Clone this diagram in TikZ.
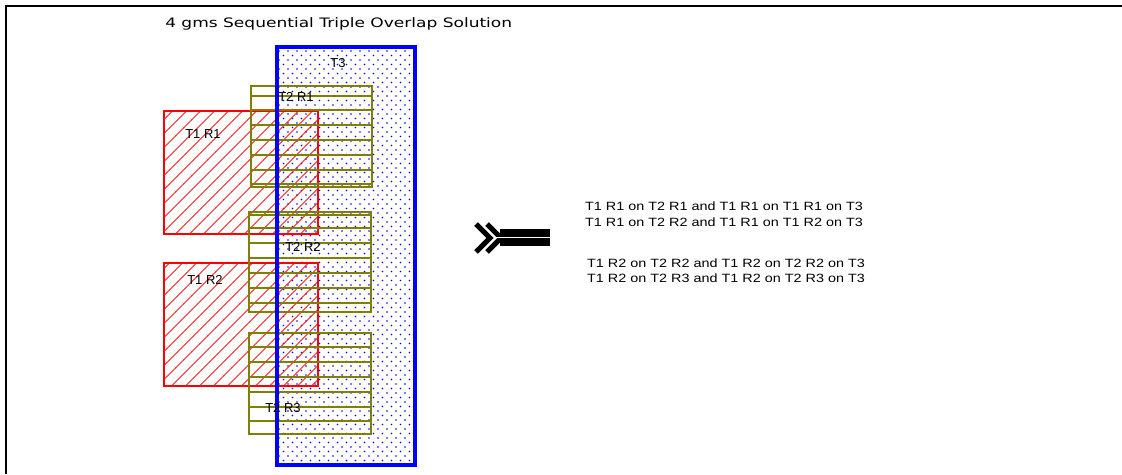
\documentclass[tikz,border=0pt]{standalone}
\usepackage{fontspec}
\setmainfont{Liberation Sans}
\newfontfamily\titlefont{DejaVu Sans}
\usepackage{tikz}
\usetikzlibrary{patterns.meta}
\usepackage{xcolor}
\definecolor{tblue}{RGB}{0,0,255}
\definecolor{tred}{RGB}{255,0,0}
\definecolor{tolive}{RGB}{128,128,0}
\tikzstyle{tablebox} = [rectangle, inner sep=0pt, outer sep=0pt, pattern={Dots[distance=9pt,radius=0.9pt]}, pattern color=tblue, postaction={pattern={Dots[distance=9pt,radius=0.9pt,xshift=4.5pt,yshift=4.5pt]}, pattern color=tblue}]
\tikzstyle{tableedge} = [draw=tblue, line width=3.5pt]
\tikzstyle{hatchbox} = [rectangle, inner sep=0pt, outer sep=0pt, draw=tred, line width=1.2pt, pattern={Lines[angle=45,distance=10.5pt,line width=1pt]}, pattern color=tred, minimum width=154pt, minimum height=123pt]
\tikzstyle{rowset} = [rectangle, inner sep=0pt, outer sep=0pt, draw=tolive, line width=2pt, minimum width=122pt, minimum height=101pt]
\tikzstyle{rowline} = [draw=tolive, line width=2pt]
\tikzstyle{boxlabel} = [font=\fontsize{13}{15}\selectfont, inner sep=0pt]
\tikzstyle{resultline} = [font=\fontsize{12}{14}\selectfont, xscale=1.2, inner sep=0pt, anchor=base]
\begin{document}
\begin{tikzpicture}[x=1pt, y=-1pt]
\useasboundingbox (0,0) rectangle (1122,474);
% Frame
\draw[line width=2pt] (6,474) -- (6,6) -- (1122,6);

% Title
\node[font=\titlefont\fontsize{13}{15}\selectfont, xscale=1.31, inner sep=0pt, anchor=base west] (title) at (165,27) {4 gms Sequential Triple Overlap Solution};

% T3
\node[tablebox, minimum width=138pt, minimum height=418pt] (t3) at (346,256) {};

% T1 rows
\node[hatchbox] (t1r1) at (241,172.5) {};
\node[hatchbox] (t1r2) at (241,324.5) {};

% T2 rows
\node[rowset, minimum width=121pt] (t2r1) at (311.5,136.5) {};
\node[rowset, minimum height=100pt] (t2r2) at (310,262) {};
\node[rowset] (t2r3) at (310,383.5) {};
\foreach \dy in {10,24,39,54,69,84,98}
  \draw[rowline] (t2r1.north west) ++(0,\dy) -- ++(121,0);
\foreach \dy in {3,16,31,46,61,76,91}
  \draw[rowline] (t2r2.north west) ++(0,\dy) -- ++(122,0);
\foreach \dy in {14,29,44,59,74,88}
  \draw[rowline] (t2r3.north west) ++(0,\dy) -- ++(122,0);

% T3 border on top
\draw[tableedge] (t3.north west) rectangle (t3.south east);

% Labels
\node[boxlabel] (lt3) at (338,63) {T3};
\node[boxlabel] (lt2r1) at (296,97) {T2 R1};
\node[boxlabel] (lt1r1) at (203,134) {T1 R1};
\node[boxlabel] (lt2r2) at (303,247) {T2 R2};
\node[boxlabel] (lt1r2) at (205,280) {T1 R2};
\node[boxlabel] (lt2r3) at (283,408) {T2 R3};

% Implies symbol
\draw[line width=5pt, miter limit=4] (476,224) -- (490,238) -- (476,252);
\draw[line width=5pt, miter limit=4] (487,224) -- (501,238) -- (487,252);
\fill (500,229) rectangle (550,246);
\draw[white, line width=1.2pt] (494,237.5) -- (550,237.5);

% Results
\node[resultline] (res1) at (724,210) {T1 R1 on T2 R1 and T1 R1 on T1 R1 on T3};
\node[resultline] (res2) at (724,226) {T1 R1 on T2 R2 and T1 R1 on T1 R2 on T3};
\node[resultline] (res3) at (726,267) {T1 R2 on T2 R2 and T1 R2 on T2 R2 on T3};
\node[resultline] (res4) at (726,282) {T1 R2 on T2 R3 and T1 R2 on T2 R3 on T3};
\end{tikzpicture}
\end{document}
